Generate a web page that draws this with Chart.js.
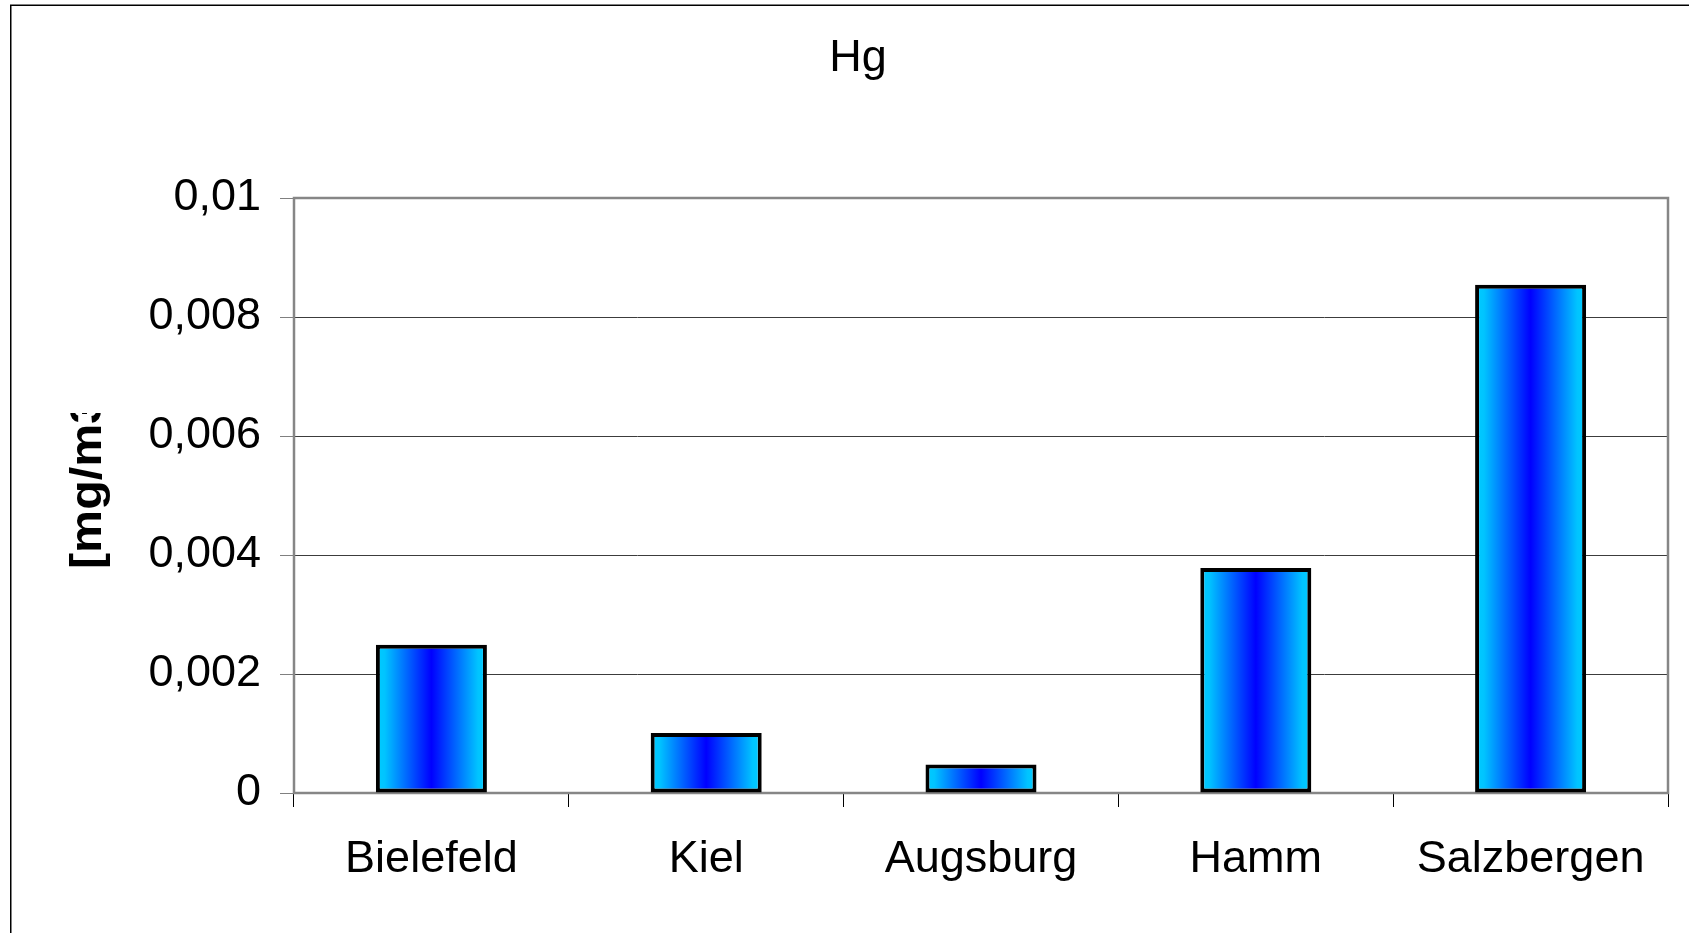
<!DOCTYPE html>
<html>
<head>
<meta charset="utf-8">
<title>Hg</title>
<script src="https://cdn.jsdelivr.net/npm/chart.js@4/dist/chart.umd.min.js"></script>
<style>
  html, body { margin: 0; padding: 0; background: #ffffff; overflow: hidden; }
  #wrap { width: 1689px; height: 933px; }
</style>
</head>
<body>
<div id="wrap"><canvas id="c" width="1689" height="933"></canvas></div>
<script>
// Mercury concentration per site
const categories = ['Bielefeld', 'Kiel', 'Augsburg', 'Hamm', 'Salzbergen'];
const hgValues = [0.00249, 0.00101, 0.00048, 0.00378, 0.00854];

// Value axis ticks (German decimal comma)
const yTickValues = [0, 0.002, 0.004, 0.006, 0.008, 0.01];
const yTickLabels = ['0', '0,002', '0,004', '0,006', '0,008', '0,01'];

const chartTitle = 'Hg';
const yAxisTitle = '[mg/m3]';

const FONT = "'Liberation Sans', Arial, sans-serif";
const BAR_FRACTION = 0.404;

// Horizontal cyan-blue-cyan fill for each bar
function barGradient(context) {
  const chart = context.chart;
  const xs = chart.scales && chart.scales.x;
  if (!xs || context.dataIndex === undefined || !xs.width) return '#00CCFF';
  const cx = xs.getPixelForValue(context.dataIndex);
  const w = xs.width / categories.length * BAR_FRACTION;
  const g = chart.ctx.createLinearGradient(cx - w / 2, 0, cx + w / 2, 0);
  g.addColorStop(0.0, '#00CCFF');
  g.addColorStop(0.08, '#00C4FF');
  g.addColorStop(0.5, '#0000FF');
  g.addColorStop(0.92, '#00C4FF');
  g.addColorStop(1.0, '#00CCFF');
  return g;
}

// Frame, title, plot border and clipped axis caption
const decorations = {
  id: 'decorations',
  beforeDraw(chart) {
    const ctx = chart.ctx;
    ctx.save();
    ctx.fillStyle = '#ffffff';
    ctx.fillRect(0, 0, chart.width, chart.height);
    ctx.strokeStyle = '#000000';
    ctx.lineWidth = 1.5;
    ctx.strokeRect(10.75, 5.25, 3000, 3000);
    ctx.fillStyle = '#000000';
    ctx.font = '45px ' + FONT;
    ctx.textAlign = 'center';
    ctx.textBaseline = 'middle';
    ctx.fillText(chartTitle, 858, 59);
    ctx.restore();
  },
  beforeDatasetsDraw(chart) {
    const ctx = chart.ctx;
    const a = chart.chartArea;
    ctx.save();
    ctx.strokeStyle = '#868686';
    ctx.lineWidth = 2.5;
    ctx.strokeRect(a.left, a.top, a.right - a.left, a.bottom - a.top);
    ctx.restore();
  },
  afterDraw(chart) {
    const ctx = chart.ctx;
    ctx.save();
    ctx.beginPath();
    ctx.rect(0, 413, 200, 600);
    ctx.clip();
    ctx.translate(101, 569);
    ctx.rotate(-Math.PI / 2);
    ctx.scale(1.1, 1);
    ctx.fillStyle = '#000000';
    ctx.font = 'bold 44px ' + FONT;
    ctx.textAlign = 'left';
    ctx.textBaseline = 'alphabetic';
    ctx.fillText(yAxisTitle, 0, 0);
    ctx.restore();
  }
};

new Chart(document.getElementById('c'), {
  type: 'bar',
  data: {
    labels: categories,
    datasets: [{
      label: chartTitle,
      data: hgValues,
      backgroundColor: barGradient,
      borderColor: '#000000',
      borderWidth: 4,
      borderSkipped: false,
      barPercentage: BAR_FRACTION,
      categoryPercentage: 1.0
    }]
  },
  options: {
    responsive: false,
    animation: false,
    devicePixelRatio: 1,
    events: [],
    layout: { padding: { left: 0, right: 21, top: 198, bottom: 0 } },
    plugins: {
      legend: { display: false },
      title: { display: false },
      tooltip: { enabled: false }
    },
    scales: {
      x: {
        offset: true,
        border: { display: false },
        grid: {
          offset: true,
          drawOnChartArea: false,
          drawTicks: true,
          tickLength: 14,
          tickColor: '#000000',
          lineWidth: 1
        },
        ticks: {
          color: '#000000',
          font: { family: FONT, size: 45 },
          padding: 26,
          maxRotation: 0,
          autoSkip: false
        },
        afterFit(scale) { scale.height = 140; }
      },
      y: {
        min: 0,
        max: 0.01,
        border: { display: false },
        grid: {
          color: '#3c3c3c',
          lineWidth: 1,
          drawTicks: true,
          tickLength: 14,
          tickColor: '#808080'
        },
        afterBuildTicks(scale) {
          scale.ticks = yTickValues.map(v => ({ value: v }));
        },
        ticks: {
          color: '#000000',
          font: { family: FONT, size: 45 },
          padding: 19,
          callback(value, index) { return yTickLabels[index]; }
        },
        afterFit(scale) { scale.width = 294; }
      }
    }
  },
  plugins: [decorations]
});
</script>
</body>
</html>
